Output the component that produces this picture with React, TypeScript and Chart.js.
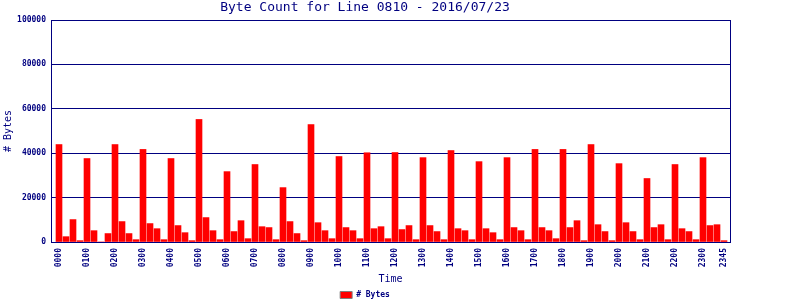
import React, { useEffect, useRef } from "react";
import { Chart, registerables } from "chart.js";

Chart.register(...registerables);

const TITLE = "Byte Count for Line 0810 - 2016/07/23";
const SERIES_LABEL = "# Bytes";
const X_TITLE = "Time";
const Y_TITLE = "# Bytes";

// one value per 15-minute slot, 0000 .. 2345
const byteCounts: number[] = [
  43900, 2400, 10100, 600,
  37600, 5100, 0, 3800,
  43900, 9200, 3800, 1050,
  41700, 8300, 6000, 1050,
  37600, 7400, 4200, 600,
  55200, 11000, 5100, 1050,
  31700, 4700, 9600, 1500,
  34900, 6900, 6500, 1050,
  24500, 9200, 3800, 600,
  52900, 8700, 5100, 1500,
  38500, 6500, 5100, 1500,
  40200, 6000, 6900, 1500,
  40300, 5600, 7400, 1050,
  38000, 7400, 4700, 1050,
  41200, 6000, 5100, 1050,
  36200, 6000, 4200, 1050,
  38000, 6500, 5100, 1050,
  41700, 6500, 5100, 1500,
  41700, 6500, 9600, 600,
  43900, 7800, 4700, 600,
  35300, 8700, 4700, 1050,
  28600, 6500, 7800, 1050,
  34900, 6000, 4700, 1050,
  38000, 7400, 7800, 600,
];

const tickLabels: string[] = [
  "0000", "0100", "0200", "0300", "0400", "0500", "0600", "0700",
  "0800", "0900", "1000", "1100", "1200", "1300", "1400", "1500",
  "1600", "1700", "1800", "1900", "2000", "2100", "2200", "2300", "2345",
];

const yTicks: number[] = [0, 20000, 40000, 60000, 80000, 100000];

const slotOf = (t: string) => parseInt(t.slice(0, 2), 10) * 4 + parseInt(t.slice(2), 10) / 15;

const NAVY = "#000080";
const MONO = "'DejaVu Sans Mono', 'Liberation Mono', monospace";

export default function App() {
  const ref = useRef<HTMLCanvasElement | null>(null);

  useEffect(() => {
    document.body.style.margin = "0";
    const canvas = ref.current;
    if (!canvas) return;

    const framePlugin = {
      id: "frame",
      afterDraw(chart: any) {
        const { ctx, chartArea } = chart;
        ctx.save();
        ctx.strokeStyle = NAVY;
        ctx.lineWidth = 1;
        ctx.strokeRect(
          Math.round(chartArea.left) + 0.5,
          Math.round(chartArea.top) + 0.5,
          Math.round(chartArea.right - chartArea.left),
          Math.round(chartArea.bottom - chartArea.top)
        );
        ctx.restore();
      },
    };

    const chart = new Chart(canvas, {
      type: "bar",
      data: {
        datasets: [
          {
            label: SERIES_LABEL,
            data: byteCounts.map((v, i) => ({ x: i, y: v })),
            backgroundColor: "#ff0000",
            borderWidth: 0,
            barThickness: 6,
          },
        ],
      },
      options: {
        animation: false,
        responsive: false,
        layout: { padding: { left: 0, right: 70, top: 0, bottom: -9 } },
        plugins: {
          title: {
            display: true,
            text: TITLE,
            color: NAVY,
            font: { family: MONO, size: 13, weight: "normal", lineHeight: 1 },
            padding: { top: 1, bottom: 6 },
          },
          legend: {
            display: true,
            position: "bottom",
            labels: {
              boxWidth: 12,
              boxHeight: 7,
              padding: 4,
              color: NAVY,
              font: { family: MONO, size: 8, weight: "bold" },
              generateLabels: (c: any) =>
                Chart.defaults.plugins.legend.labels
                  .generateLabels(c)
                  .map((l: any) => ({ ...l, strokeStyle: "#808080", lineWidth: 1, fillStyle: "#ff0000" })),
            },
          },
          tooltip: { enabled: false },
        },
        scales: {
          x: {
            type: "linear",
            offset: false,
            min: -1.143,
            max: 95.857,
            grid: { display: false, drawTicks: false },
            border: { color: NAVY },
            afterBuildTicks: (scale: any) => {
              scale.ticks = tickLabels.map((t) => ({ value: slotOf(t) }));
            },
            afterFit: (scale: any) => {
              scale.height = 45;
            },
            ticks: {
              autoSkip: false,
              maxRotation: 90,
              minRotation: 90,
              padding: 6,
              color: NAVY,
              font: { family: MONO, size: 8, weight: "bold" },
              callback: (value: any) => {
                const idx = tickLabels.findIndex((t) => slotOf(t) === value);
                return idx >= 0 ? tickLabels[idx] : "";
              },
            },
            title: {
              display: true,
              text: X_TITLE,
              color: NAVY,
              font: { family: MONO, size: 10, weight: "normal" },
              padding: { top: 0, bottom: 2 },
            },
          },
          y: {
            min: 0,
            max: 100000,
            afterBuildTicks: (scale: any) => {
              scale.ticks = yTicks.map((v) => ({ value: v }));
            },
            afterFit: (scale: any) => {
              scale.width = 51;
            },
            grid: { color: NAVY, lineWidth: 1, drawTicks: false },
            border: { color: NAVY },
            ticks: {
              padding: 5,
              color: NAVY,
              font: { family: MONO, size: 8, weight: "bold" },
              callback: (v: any) => String(v),
            },
            title: {
              display: true,
              text: Y_TITLE,
              color: NAVY,
              font: { family: MONO, size: 10, weight: "normal" },
              padding: { top: 2, bottom: 0 },
            },
          },
        },
      },
      plugins: [framePlugin],
    } as any);

    return () => chart.destroy();
  }, []);

  return <canvas ref={ref} width={800} height={300} style={{ display: "block", width: 800, height: 300 }} />;
}
